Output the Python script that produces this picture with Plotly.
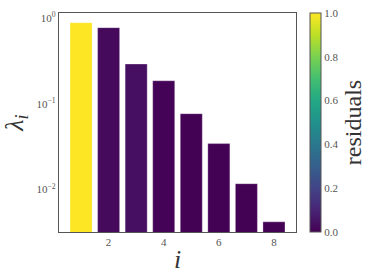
import plotly.graph_objects as go
import numpy as np

index = [1, 2, 3, 4, 5, 6, 7, 8]
eigenvalues = [0.88, 0.77, 0.29, 0.185, 0.0765, 0.0343, 0.0117, 0.0042]
residuals = [1.0, 0.025, 0.04, 0.005, 0.004, 0.003, 0.004, 0.002]
ytick_vals = [1, 0.1, 0.01]
ytick_text = ["10<sup>0</sup>", "10<sup>−1</sup>", "10<sup>−2</sup>"]
xtick_vals = [2, 4, 6, 8]
cbar_ticks = [0.0, 0.2, 0.4, 0.6, 0.8, 1.0]

viridis = [[0.0, "#440154"], [0.1, "#482475"], [0.2, "#414487"], [0.3, "#355f8d"],
           [0.4, "#2a788e"], [0.5, "#21918c"], [0.6, "#22a884"], [0.7, "#44bf70"],
           [0.8, "#7ad151"], [0.9, "#bddf26"], [1.0, "#fde725"]]

font = "Liberation Serif"
grey = "#555555"

fig = go.Figure()
fig.add_trace(go.Bar(
    x=index, y=eigenvalues, width=0.8,
    marker=dict(
        color=residuals, colorscale=viridis, cmin=0, cmax=1,
        line=dict(color="rgba(255,255,255,0.5)", width=0.6),
        showscale=True,
        colorbar=dict(
            x=1.059, xanchor="left", xpad=0, y=0.5, yanchor="middle", ypad=0,
            len=1, lenmode="fraction",
            thickness=11, outlinewidth=1, outlinecolor=grey,
            tickvals=cbar_ticks, ticktext=[f"{v:.1f}" for v in cbar_ticks],
            ticks="", ticklabelposition="outside",
            tickfont=dict(family=font, size=11, color=grey),
            title=dict(text="residuals", side="right", font=dict(family=font, size=24, color="#333333")),
        ),
    ),
))

fig.update_layout(
    width=374, height=280,
    margin=dict(l=59, r=78, t=13, b=48, autoexpand=False),
    paper_bgcolor="white", plot_bgcolor="white",
    showlegend=False,
    font=dict(family=font),
)
fig.update_xaxes(
    range=[0.2, 8.8], tickvals=xtick_vals, showgrid=False, zeroline=False,
    showline=True, linecolor=grey, linewidth=1.2, mirror=True, ticks="",
    tickfont=dict(family=font, size=11, color=grey),
    title=dict(text="<i>i</i>", font=dict(family=font, size=26, color="#333333"), standoff=2),
)
fig.update_yaxes(
    type="log", range=[np.log10(0.0032), np.log10(1.14)],
    tickvals=ytick_vals, ticktext=ytick_text, showgrid=False, zeroline=False,
    showline=True, linecolor=grey, linewidth=1.2, mirror=True, ticks="",
    tickfont=dict(family=font, size=11, color=grey),
    title=dict(text="<i>λ<sub>i</sub></i>", font=dict(family=font, size=26, color="#333333"), standoff=11),
)

fig.write_html("out.html", config={"displayModeBar": False},
               post_script="document.body.style.margin='0';")
